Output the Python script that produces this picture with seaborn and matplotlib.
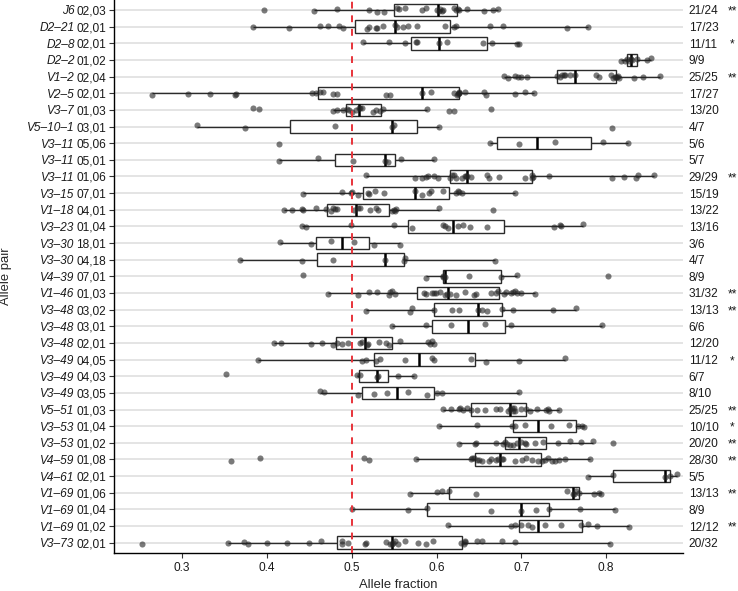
import numpy as np
import pandas as pd
import matplotlib
matplotlib.use("Agg")
import matplotlib.pyplot as plt
import seaborn as sns

# row labels, top to bottom
genes = ["J6", "D2\u201321", "D2\u20138", "D2\u20132", "V1\u20132", "V2\u20135", "V3\u20137",
         "V5\u201310\u20131", "V3\u201311", "V3\u201311", "V3\u201311", "V3\u201315", "V1\u201318",
         "V3\u201323", "V3\u201330", "V3\u201330", "V4\u201339", "V1\u201346", "V3\u201348",
         "V3\u201348", "V3\u201348", "V3\u201349", "V3\u201349", "V3\u201349", "V5\u201351",
         "V3\u201353", "V3\u201353", "V4\u201359", "V4\u201361", "V1\u201369", "V1\u201369",
         "V1\u201369", "V3\u201373"]
alleles = ["02,03", "02,01", "02,01", "01,02", "02,04", "02,01", "01,03", "03,01", "05,06",
           "05,01", "01,06", "07,01", "04,01", "01,04", "18,01", "04,18", "07,01", "01,03",
           "03,02", "03,01", "02,01", "04,05", "04,03", "03,05", "01,03", "01,04", "01,02",
           "01,08", "02,01", "01,06", "01,04", "01,02", "02,01"]
ratios = ["21/24", "17/23", "11/11", "9/9", "25/25", "17/27", "13/20", "4/7", "5/6", "5/7",
          "29/29", "15/19", "13/22", "13/16", "3/6", "4/7", "8/9", "31/32", "13/13", "6/6",
          "12/20", "11/12", "6/7", "8/10", "25/25", "10/10", "20/20", "28/30", "5/5", "13/13",
          "8/9", "12/12", "20/32"]
stars = ["**", "", "*", "", "**", "", "", "", "", "", "**", "", "", "", "", "", "", "**",
         "**", "", "", "*", "", "", "**", "*", "**", "**", "", "**", "", "**", ""]

# allele fraction of every sample, one list per row
fractions = [
    [0.396, 0.456, 0.482, 0.520, 0.530, 0.538, 0.553, 0.556, 0.563, 0.583, 0.588, 0.600,
     0.603, 0.604, 0.606, 0.608, 0.620, 0.623, 0.625, 0.626, 0.636, 0.656, 0.666, 0.672],
    [0.383, 0.426, 0.462, 0.472, 0.485, 0.490, 0.518, 0.520, 0.529, 0.530, 0.537, 0.551,
     0.553, 0.560, 0.566, 0.577, 0.610, 0.621, 0.623, 0.663, 0.678, 0.754, 0.779],
    [0.513, 0.544, 0.563, 0.576, 0.577, 0.603, 0.612, 0.655, 0.665, 0.695, 0.697],
    [0.818, 0.822, 0.824, 0.827, 0.829, 0.831, 0.836, 0.848, 0.853],
    [0.679, 0.684, 0.693, 0.696, 0.700, 0.707, 0.742, 0.745, 0.748, 0.750, 0.752, 0.757,
     0.763, 0.788, 0.791, 0.806, 0.808, 0.810, 0.812, 0.813, 0.814, 0.815, 0.833, 0.843, 0.863],
    [0.264, 0.307, 0.333, 0.362, 0.364, 0.453, 0.458, 0.462, 0.466, 0.478, 0.483, 0.540,
     0.545, 0.583, 0.593, 0.620, 0.624, 0.625, 0.626, 0.626, 0.627, 0.634, 0.656, 0.658,
     0.693, 0.704, 0.715],
    [0.383, 0.390, 0.478, 0.482, 0.490, 0.494, 0.497, 0.500, 0.505, 0.508, 0.510, 0.512,
     0.525, 0.528, 0.533, 0.537, 0.589, 0.615, 0.621, 0.664],
    [0.317, 0.374, 0.480, 0.548, 0.550, 0.603, 0.807],
    [0.414, 0.663, 0.697, 0.740, 0.796, 0.826],
    [0.414, 0.460, 0.501, 0.539, 0.543, 0.558, 0.597],
    [0.517, 0.575, 0.583, 0.587, 0.590, 0.597, 0.602, 0.616, 0.618, 0.620, 0.623, 0.630,
     0.633, 0.635, 0.636, 0.640, 0.660, 0.662, 0.674, 0.704, 0.712, 0.713, 0.714, 0.732,
     0.807, 0.821, 0.835, 0.838, 0.856],
    [0.443, 0.489, 0.499, 0.500, 0.507, 0.519, 0.520, 0.527, 0.538, 0.575, 0.583, 0.591,
     0.593, 0.607, 0.623, 0.625, 0.627, 0.630, 0.692],
    [0.420, 0.430, 0.441, 0.443, 0.458, 0.469, 0.475, 0.478, 0.480, 0.482, 0.503, 0.507,
     0.510, 0.521, 0.528, 0.531, 0.548, 0.550, 0.551, 0.552, 0.603, 0.667],
    [0.441, 0.446, 0.499, 0.550, 0.571, 0.607, 0.610, 0.613, 0.625, 0.631, 0.639, 0.660,
     0.739, 0.745, 0.747, 0.773],
    [0.415, 0.452, 0.475, 0.503, 0.526, 0.557],
    [0.368, 0.441, 0.478, 0.539, 0.561, 0.563, 0.669],
    [0.443, 0.587, 0.607, 0.608, 0.610, 0.638, 0.676, 0.695, 0.802],
    [0.472, 0.507, 0.520, 0.530, 0.544, 0.545, 0.547, 0.551, 0.585, 0.587, 0.594, 0.597,
     0.599, 0.604, 0.610, 0.612, 0.616, 0.623, 0.633, 0.644, 0.647, 0.664, 0.670, 0.672,
     0.680, 0.682, 0.688, 0.690, 0.692, 0.695, 0.699, 0.716],
    [0.517, 0.569, 0.571, 0.597, 0.618, 0.626, 0.649, 0.653, 0.660, 0.677, 0.690, 0.737, 0.764],
    [0.548, 0.587, 0.617, 0.657, 0.688, 0.795],
    [0.408, 0.416, 0.452, 0.465, 0.478, 0.483, 0.489, 0.495, 0.510, 0.512, 0.518, 0.519,
     0.532, 0.540, 0.544, 0.557, 0.590, 0.592, 0.595, 0.597],
    [0.389, 0.512, 0.517, 0.529, 0.533, 0.563, 0.595, 0.597, 0.641, 0.658, 0.697, 0.752],
    [0.352, 0.506, 0.510, 0.530, 0.531, 0.555, 0.573],
    [0.463, 0.467, 0.507, 0.526, 0.541, 0.566, 0.589, 0.600, 0.606, 0.697],
    [0.607, 0.617, 0.626, 0.628, 0.631, 0.636, 0.641, 0.648, 0.657, 0.670, 0.675, 0.684,
     0.686, 0.689, 0.690, 0.691, 0.692, 0.699, 0.706, 0.710, 0.718, 0.729, 0.731, 0.733, 0.744],
    [0.603, 0.648, 0.689, 0.693, 0.704, 0.735, 0.756, 0.767, 0.772, 0.774],
    [0.627, 0.645, 0.647, 0.670, 0.678, 0.681, 0.683, 0.687, 0.690, 0.695, 0.699, 0.704,
     0.706, 0.716, 0.725, 0.743, 0.757, 0.770, 0.784, 0.808],
    [0.357, 0.392, 0.514, 0.520, 0.576, 0.640, 0.642, 0.644, 0.648, 0.650, 0.653, 0.662,
     0.664, 0.670, 0.673, 0.677, 0.678, 0.692, 0.701, 0.705, 0.712, 0.720, 0.724, 0.728,
     0.731, 0.736, 0.740, 0.744, 0.751, 0.781],
    [0.779, 0.808, 0.869, 0.875, 0.883],
    [0.569, 0.600, 0.606, 0.615, 0.647, 0.754, 0.761, 0.762, 0.764, 0.768, 0.786, 0.792, 0.794],
    [0.500, 0.566, 0.589, 0.664, 0.700, 0.717, 0.733, 0.769, 0.810],
    [0.614, 0.688, 0.692, 0.699, 0.708, 0.712, 0.728, 0.747, 0.770, 0.778, 0.789, 0.827],
    [0.253, 0.354, 0.373, 0.378, 0.400, 0.423, 0.449, 0.464, 0.488, 0.489, 0.496, 0.515,
     0.517, 0.540, 0.545, 0.547, 0.549, 0.551, 0.555, 0.563, 0.578, 0.587, 0.596, 0.629,
     0.632, 0.633, 0.634, 0.648, 0.654, 0.677, 0.692, 0.805],
]

x_ticks = [0.3, 0.4, 0.5, 0.6, 0.7, 0.8]

row_ids = [f"{g} {a}" for g, a in zip(genes, alleles)]
df = pd.DataFrame({
    "pair": [rid for rid, vals in zip(row_ids, fractions) for _ in vals],
    "fraction": [v for vals in fractions for v in vals],
})

sns.set_style("ticks")
plt.rcParams["font.family"] = ["Liberation Sans", "DejaVu Sans"]
np.random.seed(3)

fig = plt.figure(figsize=(7.38, 5.91), dpi=100)
ax = fig.add_axes([113.7 / 738, 1 - 552.7 / 591, (683 - 113.7) / 738, 552.7 / 591])

for i in range(len(row_ids)):
    ax.axhline(i, color="#dcdcdc", lw=1.1, zorder=0)

sns.boxplot(data=df, x="fraction", y="pair", order=row_ids, orient="h", width=0.75,
            showfliers=False, showcaps=False, color="white", linecolor="#2b2b2b",
            linewidth=1.0, boxprops=dict(facecolor="white", zorder=2),
            whiskerprops=dict(zorder=2),
            medianprops=dict(color="black", linewidth=1.8, zorder=3), ax=ax)
sns.stripplot(data=df, x="fraction", y="pair", order=row_ids, orient="h", color="#222222",
              alpha=0.6, size=4.4, jitter=0.12, linewidth=0, zorder=4, ax=ax)

ax.axvline(0.5, color="#e8333a", lw=1.4, ls=(0, (3.5, 3.5)), zorder=5)

ax.set_xlim(0.2192, 0.8906)
ax.set_ylim(len(row_ids) - 0.4, -0.6)
ax.set_xticks(x_ticks)
ax.set_xticklabels([str(t) for t in x_ticks])
ax.set_yticks(range(len(row_ids)))
ax.set_yticklabels(alleles)
ax.tick_params(axis="both", labelsize=8.6, length=3.5, width=0.8, color="#333333",
               labelcolor="#1a1a1a", pad=2)
ax.tick_params(axis="x", pad=3)
for s in ["top", "right"]:
    ax.spines[s].set_visible(False)
for s in ["left", "bottom"]:
    ax.spines[s].set_linewidth(1.0)
    ax.spines[s].set_color("black")

for i, g in enumerate(genes):
    ax.annotate(g, xy=(0, i), xycoords=ax.get_yaxis_transform(), xytext=(-28.0, 0),
                textcoords="offset points", ha="right", va="center_baseline", fontsize=8.6,
                style="italic", color="#1a1a1a")
for i, (r, st) in enumerate(zip(ratios, stars)):
    ax.annotate(r, xy=(1, i), xycoords=ax.get_yaxis_transform(), xytext=(4.2, 0),
                textcoords="offset points", ha="left", va="center_baseline", fontsize=8.6,
                color="#1a1a1a")
    if st:
        ax.annotate(st, xy=(1, i), xycoords=ax.get_yaxis_transform(), xytext=(35.5, 0),
                    textcoords="offset points", ha="center", va="center_baseline",
                    fontsize=8.6, color="#1a1a1a")

ax.set_xlabel("Allele fraction", fontsize=9.4, labelpad=4)
ax.set_ylabel("Allele pair", fontsize=9.4)
ax.yaxis.set_label_coords(-0.179, 0.5)

fig.savefig("out.png", dpi=100)
